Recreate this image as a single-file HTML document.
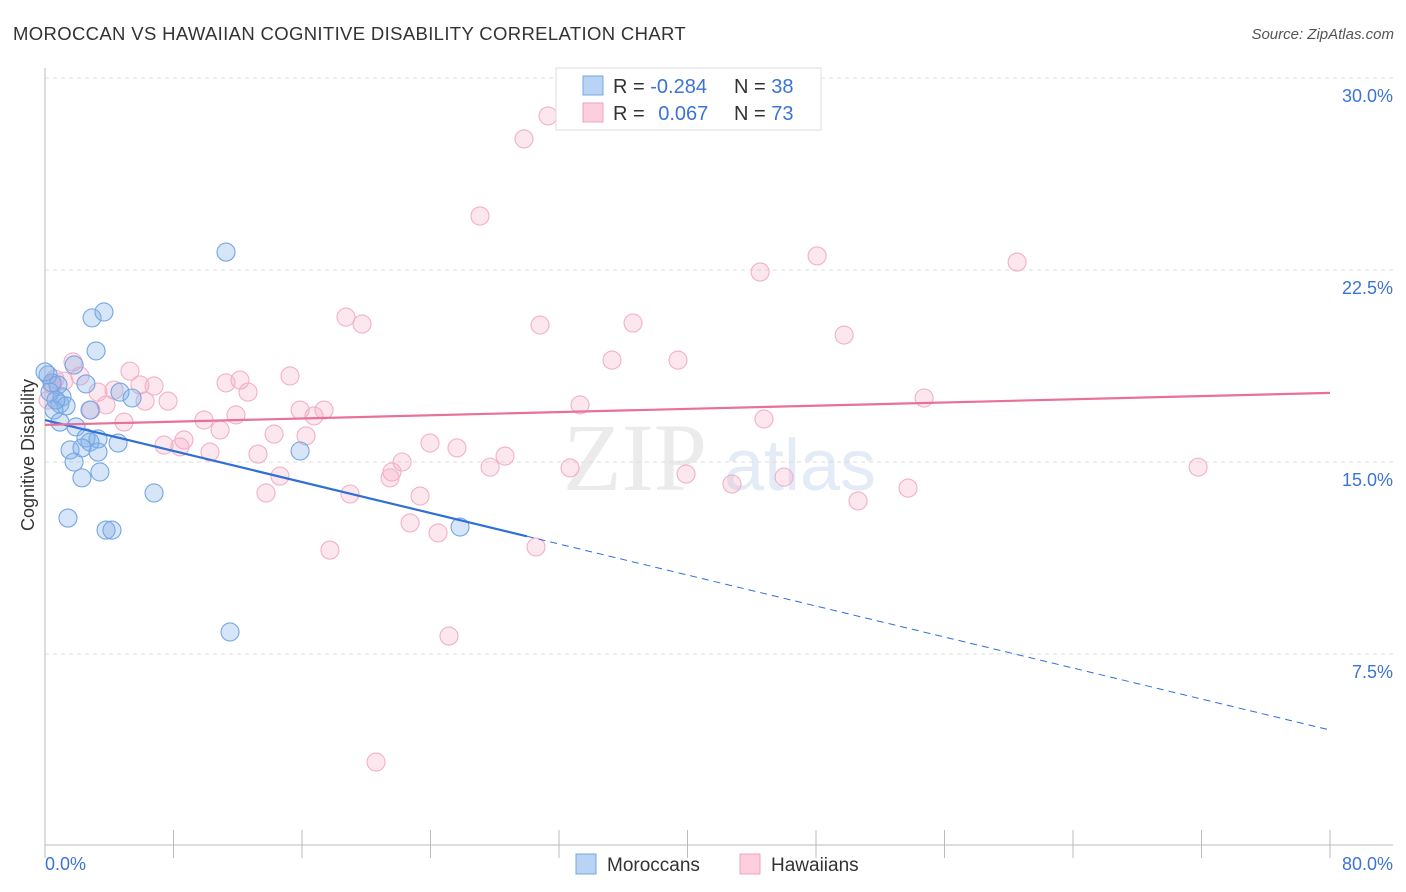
<!DOCTYPE html>
<html><head><meta charset="utf-8"><style>
body{margin:0;background:#fff;font-family:"Liberation Sans",sans-serif;}
svg{display:block}
</style></head><body>
<svg id="chart" width="1406" height="892" font-family="Liberation Sans, sans-serif">
<text x="13" y="40" font-size="18.5" fill="#333" letter-spacing="0.35">MOROCCAN VS HAWAIIAN COGNITIVE DISABILITY CORRELATION CHART</text>
<text x="1394" y="39" font-size="15" fill="#555" text-anchor="end" font-style="italic">Source: ZipAtlas.com</text>
<g>
<text x="635" y="490" font-size="96" fill="#ebebeb" text-anchor="middle" font-family="Liberation Serif, serif">ZIP</text>
<text x="800" y="490" font-size="72" fill="#e2ebf6" text-anchor="middle">atlas</text>
</g>
<g id="grid"></g>
<g id="axes"></g>
<g id="points"></g>
<g id="lines"></g>
<g>
<rect x="556" y="68" width="265" height="62" fill="#fff" stroke="#ddd"/>
<rect x="583" y="76" width="20" height="19" fill="#b9d3f5" stroke="#7aa6e0"/>
<rect x="583" y="103" width="20" height="19" fill="#fbcfdc" stroke="#f0a0bc"/>
<text x="613" y="93" font-size="20" fill="#333">R = <tspan fill="#3b74d6">-0.284</tspan></text>
<text x="734" y="93" font-size="20" fill="#333">N = <tspan fill="#3b74d6">38</tspan></text>
<text x="613" y="120" font-size="20" fill="#333">R = <tspan fill="#3b74d6" dx="8">0.067</tspan></text>
<text x="734" y="120" font-size="20" fill="#333">N = <tspan fill="#3b74d6">73</tspan></text>
</g>
<g>
<rect x="576" y="854" width="20" height="20" fill="#b9d3f5" stroke="#7aa6e0"/>
<text x="607" y="871" font-size="19" fill="#333">Moroccans</text>
<rect x="740" y="854" width="20" height="20" fill="#fbcfdc" stroke="#f0a0bc"/>
<text x="771" y="871" font-size="19" fill="#333">Hawaiians</text>
</g>
<text transform="translate(34,455) rotate(-90)" font-size="18" fill="#333" text-anchor="middle">Cognitive Disability</text>
</svg>
<script>
const yTicks=[7.5,15,22.5,30];
const yTickLabels=["7.5%","15.0%","22.5%","30.0%"];
const xTickLabels=["0.0%","80.0%"];
const moroX=[11.27,2.93,3.67,3.18,0.19,0.44,0.81,2.55,4.67,5.42,1.06,0.93,1.31,0.56,2.8,0.93,1.93,2.55,3.3,2.8,4.55,1.56,2.3,3.3,1.81,3.42,2.3,6.79,15.88,1.43,3.8,4.17,11.52,25.84,0,0.31,0.68,1.81];
const moroY=[23.2,20.63,20.86,19.34,18.4,18.09,18.01,18.05,17.73,17.5,17.54,17.27,17.19,17.03,17.03,16.56,16.37,15.94,15.9,15.78,15.74,15.47,15.55,15.39,15.0,14.61,14.38,13.79,15.43,12.81,12.34,12.34,8.36,12.46,18.52,17.73,17.42,18.79];
const hawX=[31.32,29.82,27.08,48.07,44.52,60.52,18.74,19.74,30.82,36.61,49.75,35.3,39.41,1.74,2.18,0.62,1.18,5.29,15.25,12.14,11.27,5.91,6.79,4.3,12.64,3.3,7.66,6.23,3.8,2.86,54.73,33.31,15.88,17.37,16.75,11.89,9.9,4.92,44.76,10.9,14.26,16.25,8.65,7.41,8.4,10.27,13.26,23.97,25.65,28.64,22.23,21.6,21.48,27.71,32.69,39.91,46.01,42.77,14.63,13.76,18.99,23.35,53.73,50.62,22.73,24.47,30.57,17.74,25.15,20.61,71.79,0.19,0.44];
const hawY=[28.52,27.62,24.61,23.05,22.42,22.81,20.66,20.39,20.35,20.43,19.96,18.98,18.98,18.91,18.36,18.24,18.16,18.55,18.36,18.2,18.09,18.01,17.97,17.81,17.73,17.73,17.38,17.38,17.23,17.03,17.5,17.23,17.03,17.03,16.8,16.84,16.64,16.56,16.68,16.25,16.09,16.02,15.86,15.66,15.59,15.39,15.31,15.74,15.55,15.23,15.0,14.61,14.38,14.8,14.77,14.53,14.41,14.14,14.45,13.79,13.75,13.67,13.98,13.48,12.62,12.23,11.68,11.56,8.2,3.28,14.8,17.42,18.01];
const moroTrend=[16.64,4.53];
const hawTrend=[16.45,17.7];
const moroSolidEnd=30;
const NS="http://www.w3.org/2000/svg";
const X0=45,X1=1330,Y0=846,PXPER=192/7.5;
function sx(v){return X0+v/80*(X1-X0);}
function sy(v){return Y0-v*PXPER;}
function mk(tag,attrs,parent){const e=document.createElementNS(NS,tag);for(const k in attrs)e.setAttribute(k,attrs[k]);parent.appendChild(e);return e;}
const grid=document.getElementById('grid'),axes=document.getElementById('axes'),pts=document.getElementById('points'),lines=document.getElementById('lines');
yTicks.forEach((t,i)=>{
 const l=mk('line',{x1:X0,x2:1393,y1:sy(t),y2:sy(t),stroke:'#ddd','stroke-dasharray':'4,4'},grid);
 
 
 const tx=mk('text',{x:1393,y:sy(t)+24,'font-size':18,fill:'#3b74d6','text-anchor':'end'},axes);
 tx.textContent=yTickLabels[i];
 
 
});
const ax=mk('line',{x1:X0,x2:1393,y1:845,y2:845,stroke:'#bbb'},axes);


const ay=mk('line',{x1:X0,x2:X0,y1:68,y2:845,stroke:'#bbb'},axes);


for(let i=0;i<=10;i++){
 const t=mk('line',{x1:sx(i*8),x2:sx(i*8),y1:830,y2:845+13,stroke:'#bbb'},axes);
 
 
}
const xl0=mk('text',{x:45,y:870,'font-size':18,fill:'#3b74d6'},axes);
xl0.textContent=xTickLabels[0];


const xl1=mk('text',{x:1393,y:870,'font-size':18,fill:'#3b74d6','text-anchor':'end'},axes);
xl1.textContent=xTickLabels[1];


hawX.forEach((x,i)=>{
 const c=mk('circle',{cx:sx(x),cy:sy(hawY[i]),r:9,fill:'rgba(245,170,195,0.28)',stroke:'#f2b0c6','stroke-width':1.1},pts);
 
 
});
moroX.forEach((x,i)=>{
 const c=mk('circle',{cx:sx(x),cy:sy(moroY[i]),r:9,fill:'rgba(130,175,235,0.33)',stroke:'#74a6e2','stroke-width':1.1},pts);
 
 
});
function ty(tr,x){return tr[0]+(tr[1]-tr[0])*x/80;}
const ms=mk('line',{x1:sx(0),y1:sy(ty(moroTrend,0)),x2:sx(moroSolidEnd),y2:sy(ty(moroTrend,moroSolidEnd)),stroke:'#2f6fd6','stroke-width':2.2},lines);


const md=mk('line',{x1:sx(moroSolidEnd),y1:sy(ty(moroTrend,moroSolidEnd)),x2:sx(80),y2:sy(ty(moroTrend,80)),stroke:'#2f6fd6','stroke-width':1,'stroke-dasharray':'7,5'},lines);


const hl=mk('line',{x1:sx(0),y1:sy(ty(hawTrend,0)),x2:sx(80),y2:sy(ty(hawTrend,80)),stroke:'#e8709a','stroke-width':2.2},lines);


</script>
</body></html>
